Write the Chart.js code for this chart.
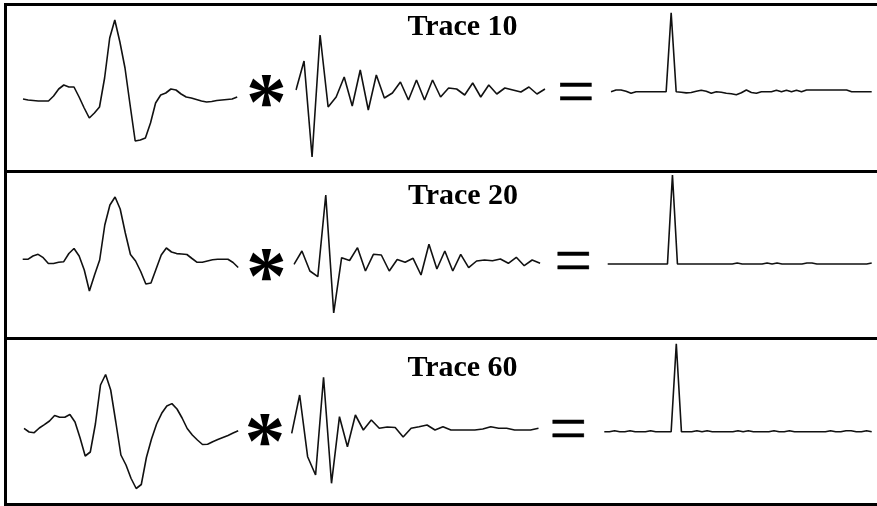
<!DOCTYPE html>
<html>
<head>
<meta charset="utf-8">
<script src="https://cdn.jsdelivr.net/npm/chart.js@4/dist/chart.umd.min.js"></script>
<style>
  html, body { margin: 0; padding: 0; background: #fff; overflow: hidden; }
  body { width: 877px; height: 506px; position: relative; }
  #frame { position: absolute; left: 4px; top: 3px; width: 900px; height: 503px;
           border: 3px solid #000; border-right: none; box-sizing: border-box; }
  .rule { position: absolute; left: 4px; width: 900px; height: 3px; background: #000; }
  canvas { position: absolute; }
  .txt { position: absolute; font-family: "Liberation Serif", "Times New Roman", serif;
         font-weight: bold; color: #000; white-space: nowrap; line-height: 1; }
  .eq { -webkit-text-stroke: 0.5px #000; }
</style>
</head>
<body>
<div id="frame"></div>
<div class="rule" style="top:170px"></div>
<div class="rule" style="top:337px"></div>
<script>
// Panel titles
const panelTitles = ['Trace 10', 'Trace 20', 'Trace 60'];

// Trace 10: input wavelet, deconvolution operator, deconvolved output
const wavelet10 = [1, 0, -0.5, -1, -1, -1, 4, 11, 15, 13, 13, 3, -8, -18, -13, -7, 22, 62, 80, 58, 32,
  -5, -41, -40, -38, -23, -3, 5, 7, 11, 10, 6, 3, 2, 0.5, -1, -2, -1.5, -0.5, 0, 0.5, 1, 3];
const operator10 = [0, 29, -67, 55, -17, -7, 13, -16, 20, -20, 15, -8, -3, 8, -10, 10, -10, 10, -7, 2,
  1, -5, 7, -7, 5, -4, 2, 0, -2, 3, -4, 1];
const output10 = [0, 1.7, 1.7, 0.5, -1.6, 0, 0, 0, 0, 0, 0, 0, 79, 0, -0.5, -1.2, -0.8, 0.5, 1.5, 0.5,
  -1.6, 0, -0.5, -1.6, -2, -3, -1, 1.7, -0.8, -1.6, 0, 0, 0, 1.5, 0, 1.5, 0, 1.5, 0, 1.7,
  1.7, 1.7, 1.7, 1.7, 1.7, 1.7, 1.7, 1.7, 0, 0, 0, 0, 0];

// Trace 20
const wavelet20 = [0.7, 0.7, 4, 5.7, 2.3, -3.5, -3.5, -2.2, -1.7, 6.5, 11.5, 4, -10, -31, -15, 0, 35, 55, 63, 51,
  27, 5.5, -1, -11.5, -24, -23, -9, 5, 12, 8, 6.4, 6, 5.5, 1.5, -2.3, -2.3, -1, 0.2, 0.7, 0.7,
  0.7, -2.5, -7.5];
const operator20 = [-2.3, 11, -9, -14.7, 67, -51, 4.3, 1.5, 14.3, -9, 7.7, 7, -9, 2.5, -0.3, 3.7, -13, 17.7, -7, 11,
  -9, 7.7, -5.7, 1, 2, 1.3, 3, -1.3, 4.7, -3.7, 2, -1.3];
const output20 = [0, 0, 0, 0, 0, 0, 0, 0, 0, 0, 0, 0, 0, 89, 0, 0, 0, 0, 0, 0,
  0, 0, 0, 0, 0, 0, 1, 0, 0, 0, 0, 0, 1, 0, 1, 0, 0, 0, 0, 0,
  1, 1, 0, 0, 0, 0, 0, 0, 0, 0, 0, 0, 0, 1];

// Trace 60
const wavelet60 = [1.7, -2, -2.7, 2, 5.3, 9, 14.5, 12.7, 12.7, 15.5, 8, -8, -26, -22, 6, 45, 55.5, 40, 8, -25,
  -35, -48.5, -58.5, -54.5, -27.5, -9, 6, 16.7, 24, 26.4, 21, 12, 1.5, -5, -10, -14.5, -14.2, -11.7, -9.5, -7.5,
  -5.5, -3, -0.7];
const operator60 = [-4.3, 34, -27.7, -46, 51.7, -54.3, 12.3, -17.7, 14, -1, 9, 0.7, 2, 1.5, -8, 0.7, 2.3, 4, -1, 2.3,
  -1, -1, -1, -1, 0, 2.3, 0.7, 0.7, -1, -1, -1, 0.7];
const output60 = [0, 0, 1, 0, 0, 1, 0, 0, 0, 1, 0, 0, 0, 0, 88, 0, 0, 0, 1, 0,
  1, 0, 0, 0, 0, 0, 1, 0, 1, 0, 0, 0, 0, 1, 0, 0, 1, 0, 0, 0,
  0, 0, 0, 0, 1, 0, 0, 1, 1, 0, 0, 1, 0];

const panelSeries = [
  [wavelet10, operator10, output10],
  [wavelet20, operator20, output20],
  [wavelet60, operator60, output60]
];

// Page placement of each panel's pieces (pixels)
const layout = [
  { title: { cx: 462.5, base: 35 },    star: { cx: 266.5, cy: 91.7 },  eq: { cx: 576, cy: 92.8 },
    spans: [{ x0: 23, x1: 237.2, base: 100 }, { x0: 296, x1: 545, base: 90 }, { x0: 611, x1: 871.7, base: 91.7 }] },
  { title: { cx: 463, base: 204.3 },   star: { cx: 266.5, cy: 265 },   eq: { cx: 573.5, cy: 261.5 },
    spans: [{ x0: 22.7, x1: 238.2, base: 260 }, { x0: 294, x1: 540.1, base: 262 }, { x0: 607.7, x1: 871.7, base: 264 }] },
  { title: { cx: 462.5, base: 376.7 }, star: { cx: 265, cy: 430.5 },   eq: { cx: 568.5, cy: 429.5 },
    spans: [{ x0: 24, x1: 238.2, base: 430 }, { x0: 291.7, x1: 538.5, base: 429 }, { x0: 604.3, x1: 871.7, base: 431.7 }] }
];

const FONT = '"Liberation Serif", "Times New Roman", serif';
const meas = document.createElement('canvas').getContext('2d');

function metrics(text, size, weight) {
  meas.font = weight + ' ' + size + 'px ' + FONT;
  return meas.measureText(text);
}

// place a text so its baseline sits at y and it is centred on cx
function placeText(text, size, cx, baseY) {
  const m = metrics(text, size, 'bold');
  const fa = m.fontBoundingBoxAscent, fd = m.fontBoundingBoxDescent;
  const baseOff = (size - (fa + fd)) / 2 + fa;
  const el = document.createElement('div');
  el.className = 'txt';
  el.textContent = text;
  el.style.fontSize = size + 'px';
  el.style.left = (cx - m.width / 2) + 'px';
  el.style.top = (baseY - baseOff) + 'px';
  document.body.appendChild(el);
}

// place a single glyph whose inked box is centred on (cx, cy), scaled to a target height or width
function placeGlyph(text, cx, cy, target, byWidth, weight, extraClass) {
  const m0 = metrics(text, 100, weight);
  const inkW = m0.actualBoundingBoxLeft + m0.actualBoundingBoxRight;
  const inkH = m0.actualBoundingBoxAscent + m0.actualBoundingBoxDescent;
  const size = 100 * target / (byWidth ? inkW : inkH);
  const m = metrics(text, size, weight);
  const fa = m.fontBoundingBoxAscent, fd = m.fontBoundingBoxDescent;
  const baseOff = (size - (fa + fd)) / 2 + fa;
  const gx = (m.actualBoundingBoxRight - m.actualBoundingBoxLeft) / 2;
  const gy = (m.actualBoundingBoxDescent - m.actualBoundingBoxAscent) / 2;
  const el = document.createElement('div');
  el.className = 'txt' + (extraClass ? ' ' + extraClass : '');
  el.textContent = text;
  el.style.fontSize = size + 'px';
  el.style.fontWeight = weight;
  el.style.left = (cx - gx) + 'px';
  el.style.top = (cy - gy - baseOff) + 'px';
  document.body.appendChild(el);
}

// one small line chart per trace; amplitude units are one pixel each
function drawTrace(values, span) {
  const pad = 3, half = 100;
  const left = Math.floor(span.x0) - pad;
  const right = Math.ceil(span.x1) + pad;
  const top = Math.round(span.base) - half;
  const cv = document.createElement('canvas');
  cv.width = right - left;
  cv.height = 2 * half;
  cv.style.left = left + 'px';
  cv.style.top = top + 'px';
  document.body.appendChild(cv);
  const yMax = span.base - top - pad;
  const yMin = -(top + 2 * half - pad - span.base);
  new Chart(cv, {
    type: 'line',
    data: {
      labels: values.map((_, i) => i),
      datasets: [{
        data: values,
        borderColor: '#111',
        borderWidth: 1.6,
        borderJoinStyle: 'bevel',
        pointRadius: 0,
        tension: 0,
        fill: false
      }]
    },
    options: {
      responsive: false,
      animation: false,
      events: [],
      layout: { padding: { left: span.x0 - left, right: right - span.x1, top: pad, bottom: pad } },
      plugins: { legend: { display: false }, tooltip: { enabled: false } },
      scales: {
        x: { display: false, offset: false },
        y: { display: false, min: yMin, max: yMax }
      }
    }
  });
}

layout.forEach((p, i) => {
  panelSeries[i].forEach((vals, j) => drawTrace(vals, p.spans[j]));
  placeText(panelTitles[i], 30, p.title.cx, p.title.base);
  placeGlyph('*', p.star.cx, p.star.cy, 31, false, 'bold');
  placeGlyph('=', p.eq.cx, p.eq.cy, 32, true, 'normal', 'eq');
});
</script>
</body>
</html>
